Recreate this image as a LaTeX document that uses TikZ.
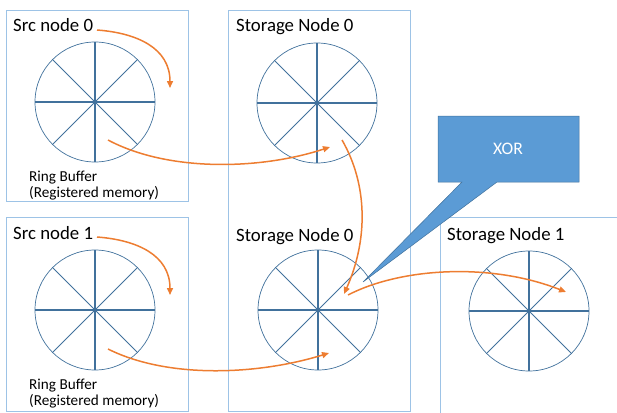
\documentclass[tikz,border=0pt]{standalone}
\usepackage{fontspec}
\setmainfont{Carlito}
\usetikzlibrary{arrows.meta,positioning,calc}
\definecolor{boxblue}{HTML}{9DC3E6}
\definecolor{ringblue}{HTML}{41719C}
\definecolor{xorblue}{HTML}{5B9BD5}
\definecolor{flowor}{HTML}{ED7D31}

\begin{document}
\begin{tikzpicture}[x=1pt, y=-1pt,
  panel/.style={rectangle, draw=boxblue, line width=1pt, anchor=north west, inner sep=0pt},
  title/.style={anchor=base west, inner sep=0pt, font=\fontsize{18.8}{20}\selectfont},
  note/.style={anchor=base west, inner sep=0pt, align=left, font=\fontsize{15.2}{16}\selectfont},
  ring/.style={circle, draw=ringblue, line width=0.7pt, minimum size=120pt, inner sep=0pt},
  spoke/.style={ringblue, line width=0.8pt},
  axisspoke/.style={ringblue, line width=1.1pt},
  flow/.style={-{Triangle[length=7pt,width=6pt]}, flowor, line width=1.5pt}
]
  \useasboundingbox (0,0) rectangle (617,412);

  % Panels
  \node[panel, minimum width=182pt, minimum height=191pt] (src0) at (6,10) {};
  \node[panel, minimum width=182pt, minimum height=194pt] (src1) at (6,217) {};
  \node[panel, minimum width=182pt, minimum height=401pt] (sto0) at (228,10) {};
  \node[panel, minimum width=200pt, minimum height=215pt] (sto1) at (440,217) {};

  % Titles
  \node[title] (t0) at (13,32) {Src node 0};
  \node[title] (t1) at (13,239) {Src node 1};
  \node[title] (t2) at (236,32) {Storage Node 0};
  \node[title] (t3) at (236,241) {Storage Node 0};
  \node[title] (t4) at (447,240) {Storage Node 1};
  \node[note] (n0) at (29,197) {Ring Buffer\\(Registered memory)};
  \node[note] (n1) at (29,405) {Ring Buffer\\(Registered memory)};

  % Ring buffers
  \node[ring] (buf0) at (95,102) {};
  \node[ring] (buf1) at (95,310) {};
  \node[ring] (sto0a) at (317,103) {};
  \node[ring] (sto0b) at (318,310) {};
  \node[ring] (sto1c) at (529,311) {};
  \foreach \c in {buf0,buf1,sto0a,sto0b,sto1c} {
    \foreach \a in {45,135,225,315}
      \draw[spoke] (\c.center) -- (\c.\a);
    \foreach \a in {0,90,180,270}
      \draw[axisspoke] (\c.center) -- (\c.\a);
  }

  % XOR callout
  \coordinate (xortip) at (363,282);
  \filldraw[fill=xorblue, draw=ringblue, line width=0.5pt]
    (438,116) -- (579,116) -- (579,182) -- (497,182) -- (xortip) -- (462,182) -- (438,182) -- cycle;
  \node[text=white, font=\fontsize{17.6}{19}\selectfont] (xor) at (508,149) {XOR};

  % Data flow
  \coordinate (f1a) at (97,30);   \coordinate (f1b) at (170,88);
  \coordinate (f2a) at (108,140); \coordinate (f2b) at (330,147);
  \coordinate (f3a) at (342,140); \coordinate (f3b) at (344,294);
  \coordinate (f4a) at (97,237);  \coordinate (f4b) at (170,295);
  \coordinate (f5a) at (108,349); \coordinate (f5b) at (329,353);
  \coordinate (f6a) at (348,295); \coordinate (f6b) at (566,292);
  \draw[flow] (f1a) .. controls +(40,3) and +(0,-40) .. (f1b);
  \draw[flow] (f2a) .. controls +(60,32) and +(-70,23) .. (f2b);
  \draw[flow] (f3a) .. controls +(26,45) and +(24,-54) .. (f3b);
  \draw[flow] (f4a) .. controls +(40,3) and +(0,-40) .. (f4b);
  \draw[flow] (f5a) .. controls +(60,30) and +(-71,22) .. (f5b);
  \draw[flow] (f6a) .. controls +(52,-27) and +(-76,-30) .. (f6b);
\end{tikzpicture}
\end{document}
